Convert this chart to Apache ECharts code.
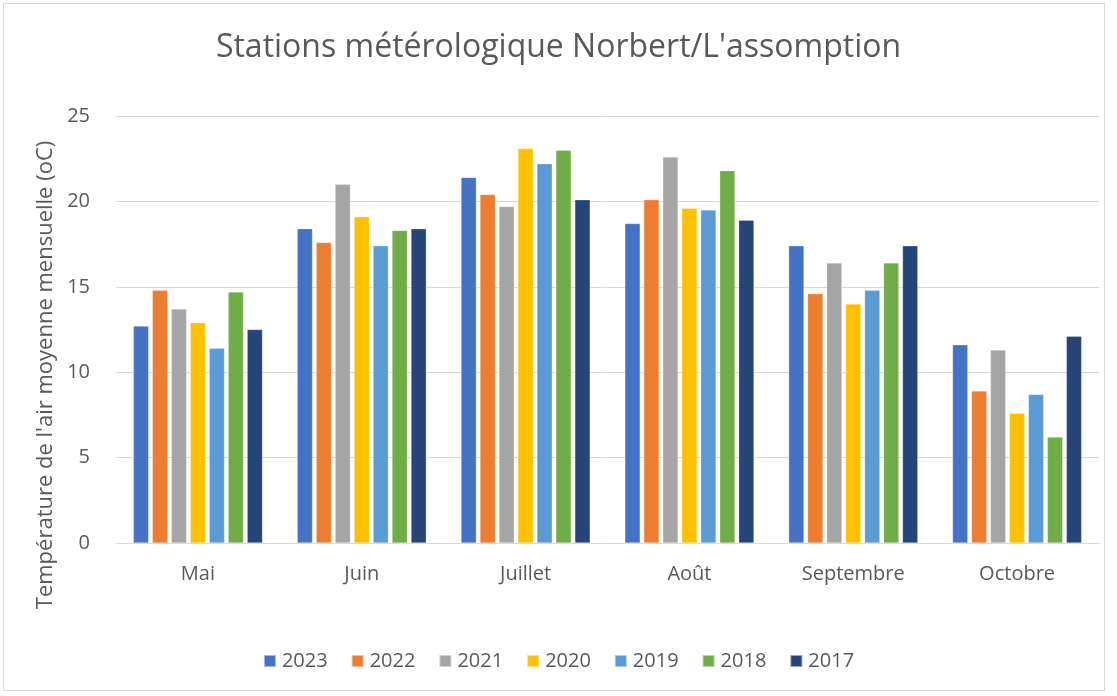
<!DOCTYPE html>
<html>
<head>
<meta charset="utf-8">
<script src="https://cdn.jsdelivr.net/npm/echarts@6/dist/echarts.min.js"></script>
<style>
html,body{margin:0;padding:0;background:#fff;}
#frame{position:absolute;left:3px;top:3px;width:1102px;height:688px;border:1px solid #d9d9d9;box-sizing:border-box;}
#c{position:absolute;left:0;top:0;width:1117px;height:696px;}
</style>
</head>
<body>
<div id="frame"></div>
<div id="c"></div>
<script>
const categories = ['Mai', 'Juin', 'Juillet', 'Août', 'Septembre', 'Octobre'];
const years = ['2023', '2022', '2021', '2020', '2019', '2018', '2017'];
const colors = ['#4472C4', '#ED7D31', '#A5A5A5', '#FFC000', '#5B9BD5', '#70AD47', '#264478'];
const v2023 = [12.7, 18.4, 21.4, 18.7, 17.4, 11.6];
const v2022 = [14.8, 17.6, 20.4, 20.1, 14.6, 8.9];
const v2021 = [13.7, 21.0, 19.7, 22.6, 16.4, 11.3];
const v2020 = [12.9, 19.1, 23.1, 19.6, 14.0, 7.6];
const v2019 = [11.4, 17.4, 22.2, 19.5, 14.8, 8.7];
const v2018 = [14.7, 18.3, 23.0, 21.8, 16.4, 6.2];
const v2017 = [12.5, 18.4, 20.1, 18.9, 17.4, 12.1];
const yTicks = [0, 5, 10, 15, 20, 25];
const values = [v2023, v2022, v2021, v2020, v2019, v2018, v2017];

const FONT = 'Open Sans';
const chart = echarts.init(document.getElementById('c'), null, {renderer: 'canvas'});
chart.setOption({
  animation: false,
  backgroundColor: 'transparent',
  color: colors,
  title: {
    text: 'Stations métérologique Norbert/L\'assomption',
    left: 'center',
    top: 27,
    textStyle: {fontFamily: FONT, fontSize: 32, fontWeight: 'normal', color: '#595959'}
  },
  legend: {
    data: years,
    bottom: 20,
    left: 'center',
    itemWidth: 12,
    itemHeight: 12,
    itemGap: 23,
    icon: 'rect',
    textStyle: {fontFamily: FONT, fontSize: 20, color: '#595959', padding: [0, 0, 0, 1]}
  },
  grid: {left: 116, right: 18, top: 116, bottom: 153},
  graphic: [{
    type: 'text',
    x: 46,
    y: 375,
    rotation: Math.PI / 2,
    style: {
      text: 'Température de l\'air moyenne mensuelle (oC)',
      fontFamily: FONT,
      fontSize: 22,
      fill: '#595959',
      textAlign: 'center',
      textVerticalAlign: 'middle'
    }
  }],
  xAxis: {
    type: 'category',
    data: categories,
    axisTick: {show: false},
    axisLine: {lineStyle: {color: '#d9d9d9', width: 1}},
    axisLabel: {fontFamily: FONT, fontSize: 20, color: '#595959', margin: 21}
  },
  yAxis: {
    type: 'value',
    min: yTicks[0],
    max: yTicks[yTicks.length - 1],
    interval: 5,
    axisLine: {show: false},
    axisTick: {show: false},
    splitLine: {lineStyle: {color: '#d9d9d9', width: 1}},
    axisLabel: {fontFamily: FONT, fontSize: 20, color: '#595959', margin: 26}
  },
  series: years.map((y, i) => ({
    name: y,
    type: 'bar',
    data: values[i],
    barWidth: 15.3,
    barGap: '24%',
    itemStyle: {color: colors[i], borderColor: 'rgba(255,255,255,0.5)', borderWidth: 0.5}
  }))
});
</script>
</body>
</html>
